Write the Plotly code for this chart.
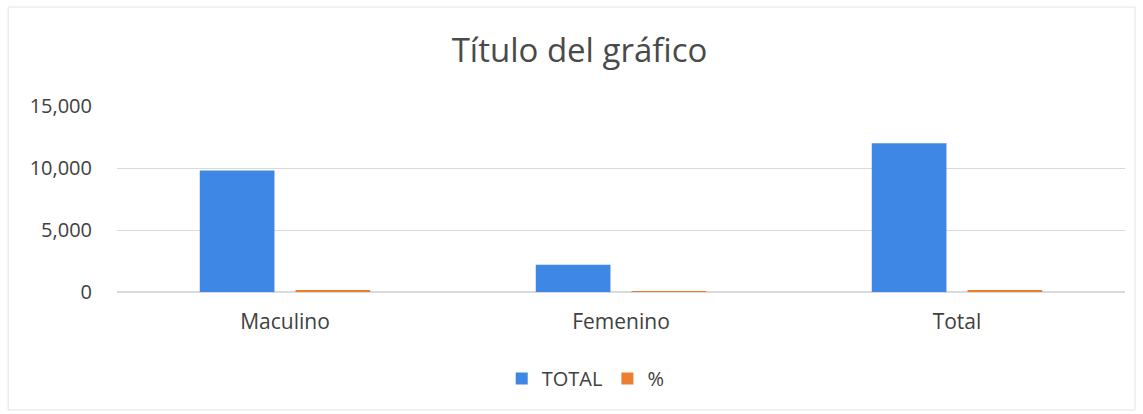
import plotly.graph_objects as go

categories = ["Maculino", "Femenino", "Total"]
total_values = [9800, 2200, 12000]
pct_values = [81.7, 18.3, 100]
tick_vals = [0, 5000, 10000, 15000]
tick_text = ["0", "5,000", "10,000", "15,000"]

FONT = "'Open Sans', Lato, sans-serif"

fig = go.Figure()
fig.add_trace(go.Bar(name="TOTAL", x=categories, y=total_values, marker_color="#3F87E5",
                     marker_line_width=0))
fig.add_trace(go.Bar(name="%", x=categories, y=pct_values, marker_color="#ED7D31",
                     marker_line_width=0))

fig.update_layout(
    width=1143, height=414,
    paper_bgcolor="white", plot_bgcolor="white",
    barmode="group", bargap=0.43, bargroupgap=0.22,
    margin=dict(l=117, r=18, t=106, b=122, autoexpand=False),
    title=dict(text="Título del gráfico", x=0.507, xanchor="center", y=0.879, yanchor="middle",
               font=dict(family=FONT, size=33, color="#4a4a4a")),
    font=dict(family=FONT, color="#4a4a4a"),
    xaxis=dict(showgrid=False, showline=False, ticks="", tickfont=dict(size=21, color="#404040"),
               ticklabelstandoff=15),
    yaxis=dict(range=[0, 15000], tickvals=tick_vals, ticktext=tick_text, showgrid=True,
               gridcolor="#D9D9D9", gridwidth=1, zeroline=True, zerolinecolor="#D9D9D9",
               showline=False, ticks="", tickfont=dict(size=20, color="#404040"), ticklabelstandoff=24),
    legend=dict(orientation="h", x=0.465, xanchor="center", y=-0.465, yanchor="middle",
                font=dict(size=20, color="#404040"), itemwidth=30, traceorder="normal"),
    shapes=[dict(type="rect", xref="paper", yref="paper", x0=-0.108, x1=1.010, y0=-0.634, y1=1.532,
                 line=dict(color="#E3E3E3", width=1), fillcolor="rgba(0,0,0,0)", layer="below")],
)

fig.write_html("out.html", config={"displayModeBar": False},
               post_script="document.body.style.margin='0';")
